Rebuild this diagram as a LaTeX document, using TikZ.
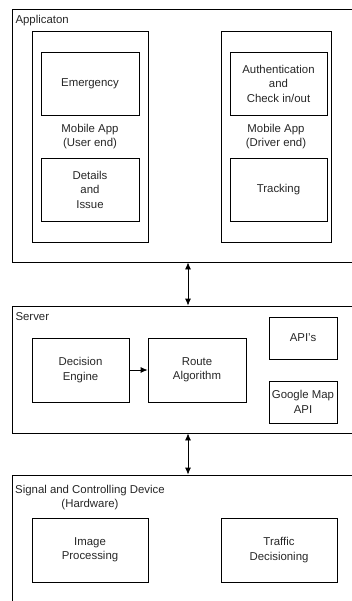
\documentclass[tikz,border=0pt]{standalone}
\usepackage{fontspec}
\setmainfont{Liberation Sans}
\usetikzlibrary{arrows.meta}
\begin{document}
\begin{tikzpicture}[x=1pt,y=-1pt,
  every node/.style={font=\fontsize{11.4}{14.5}\selectfont, text=black!85, align=center},
  frame/.style={draw, line width=0.8pt, inner sep=0pt},
  block/.style={draw, line width=0.8pt, inner sep=0pt},
  tip/.style={Latex[length=7pt,width=6pt]},
  link/.style={line width=0.8pt, {Latex[length=7pt,width=6pt]}-{Latex[length=7pt,width=6pt]}}]
\useasboundingbox (0,0) rectangle (352,601);
\clip (0,0) rectangle (352,601);
% layers
\node[frame, minimum width=352pt, minimum height=253pt] (app) at (188,135.5) {};
\node[frame, minimum width=352pt, minimum height=127pt] (server) at (188,369.5) {};
\node[frame, minimum width=352pt, minimum height=160pt] (hw) at (188,555) {};
\node[anchor=west] (applbl) at (12,21) {Applicaton};
\node[anchor=west] (serverlbl) at (12,317) {Server};
\node (hwlbl) at (90,497.5) {Signal and Controlling Device\\(Hardware)};
% application
\node[block, minimum width=116pt, minimum height=211pt] (userapp) at (90,136.5) {Mobile App\\(User end)};
\node[block, minimum width=98pt, minimum height=63pt] (emergency) at (90,83.5) {Emergency};
\node[block, minimum width=98pt, minimum height=63pt] (details) at (90,189.5) {Details\\and\\Issue};
\node[block, minimum width=110pt, minimum height=211pt] (driverapp) at (276,136.5) {Mobile App\\(Driver end)};
\node[block, minimum width=97pt, minimum height=63pt] (auth) at (278.5,83.5) {Authentication\\and\\Check in/out};
\node[block, minimum width=97pt, minimum height=63pt] (tracking) at (278.5,189.5) {Tracking};
% server
\node[block, minimum width=97pt, minimum height=64pt] (decision) at (80.5,370) {Decision\\Engine};
\node[block, minimum width=98pt, minimum height=64pt] (route) at (197,370) {Route\\Algorithm};
\node[block, minimum width=68pt, minimum height=42pt] (apis) at (303,338) {API's};
\node[block, minimum width=68pt, minimum height=42pt] (gmap) at (303,402) {Google Map\\API};
% hardware
\node[block, minimum width=116pt, minimum height=64pt] (imgproc) at (90,550) {Image\\Processing};
\node[block, minimum width=116pt, minimum height=64pt] (traffic) at (279,550) {Traffic\\Decisioning};
% connectors
\draw[link] (app.south) -- (server.north);
\draw[link] (server.south) -- (hw.north);
\draw[line width=0.8pt, -{Latex[length=7pt,width=6pt]}] (decision) -- (route);
\end{tikzpicture}
\end{document}
